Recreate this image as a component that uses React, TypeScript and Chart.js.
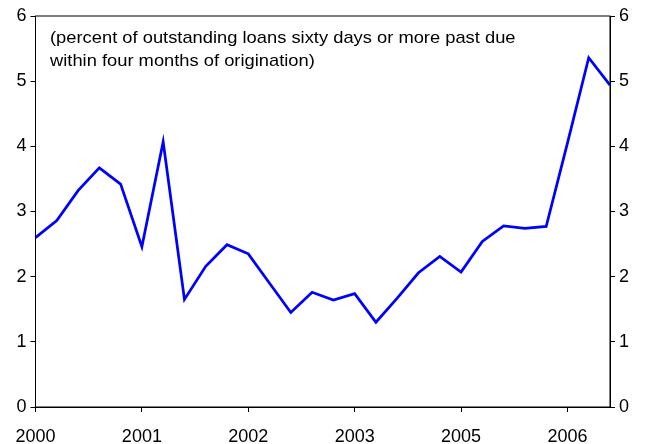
import React, { useEffect, useRef } from "react";
import { Chart, registerables } from "chart.js";

Chart.register(...registerables);

const categories: string[] = Array.from({ length: 28 }, (_, i) => String(i));
const values: number[] = [
  2.6, 2.86, 3.32, 3.67, 3.42, 2.46, 4.07, 1.65, 2.16, 2.49,
  2.35, 1.9, 1.45, 1.76, 1.64, 1.74, 1.3, 1.67, 2.06, 2.31,
  2.07, 2.54, 2.78, 2.74, 2.77, 4.05, 5.36, 4.94,
];
const tickLabels: string[] = ["2000", "2001", "2002", "2003", "2005", "2006"];
const yTicks: number[] = [0, 1, 2, 3, 4, 5, 6];
const noteLines: string[] = [
  "(percent of outstanding loans sixty days or more past due",
  "within four months of origination)",
];

const FONT = "'Liberation Sans', Arial, sans-serif";

export default function App() {
  const ref = useRef<HTMLCanvasElement | null>(null);
  useEffect(() => {
    document.body.style.margin = "0";
    const canvas = ref.current!;
    const framePlugin = {
      id: "frame",
      afterDatasetsDraw(chart: any) {
        const { ctx, chartArea: a } = chart;
        ctx.save();
        ctx.strokeStyle = "#000";
        ctx.lineWidth = 1;
        ctx.strokeRect(a.left, a.top, a.right - a.left, a.bottom - a.top);
        ctx.fillStyle = "#000";
        ctx.font = `17px ${FONT}`;
        ctx.textBaseline = "alphabetic";
        noteLines.forEach((t, i) => {
          ctx.save();
          ctx.translate(a.left + 14.5, a.top + 26.5 + i * 23);
          ctx.scale(1.078, 1);
          ctx.fillText(t, 0, 0);
          ctx.restore();
        });
        ctx.restore();
      },
    };
    const chart = new Chart(canvas, {
      type: "line",
      data: {
        labels: categories,
        datasets: [
          {
            data: values,
            borderColor: "#0000FF",
            borderWidth: 2.75,
            pointRadius: 0,
            tension: 0,
            fill: false,
          },
        ],
      },
      options: {
        animation: false,
        responsive: false,
        layout: { padding: { top: 16, left: 0, right: 0, bottom: 0 } },
        plugins: { legend: { display: false }, tooltip: { enabled: false } },
        scales: {
          x: {
            type: "category",
            offset: false,
            grid: {
              drawOnChartArea: false,
              tickLength: 5,
              color: (c: any) => (c.index % 5 === 0 ? "#000" : "rgba(0,0,0,0)"),
            },
            border: { color: "#000" },
            ticks: {
              autoSkip: false,
              maxRotation: 0,
              padding: 14,
              color: "#000",
              font: { family: FONT, size: 18 },
              callback: (_v: any, i: number) => (i % 5 === 0 ? tickLabels[i / 5] : ""),
            },
            afterFit: (s: any) => {
              s.height = 37;
            },
          },
          y: {
            position: "left",
            min: 0,
            max: 6,
            afterBuildTicks: (s: any) => {
              s.ticks = yTicks.map((v) => ({ value: v }));
            },
            grid: { drawOnChartArea: false, tickLength: 5, color: "#000" },
            border: { color: "#000" },
            ticks: { color: "#000", padding: 4, font: { family: FONT, size: 18 } },
            afterFit: (s: any) => {
              s.width = 35.5;
            },
          },
          y2: {
            position: "right",
            min: 0,
            max: 6,
            afterBuildTicks: (s: any) => {
              s.ticks = yTicks.map((v) => ({ value: v }));
            },
            grid: { drawOnChartArea: false, tickLength: 5, color: "#000" },
            border: { color: "#000" },
            ticks: { color: "#000", padding: 4, font: { family: FONT, size: 18 } },
            afterFit: (s: any) => {
              s.width = 35;
            },
          },
        },
      },
      plugins: [framePlugin],
    });
    return () => chart.destroy();
  }, []);
  return (
    <div style={{ width: 645, height: 444 }}>
      <canvas ref={ref} width={645} height={444} style={{ display: "block" }} />
    </div>
  );
}
